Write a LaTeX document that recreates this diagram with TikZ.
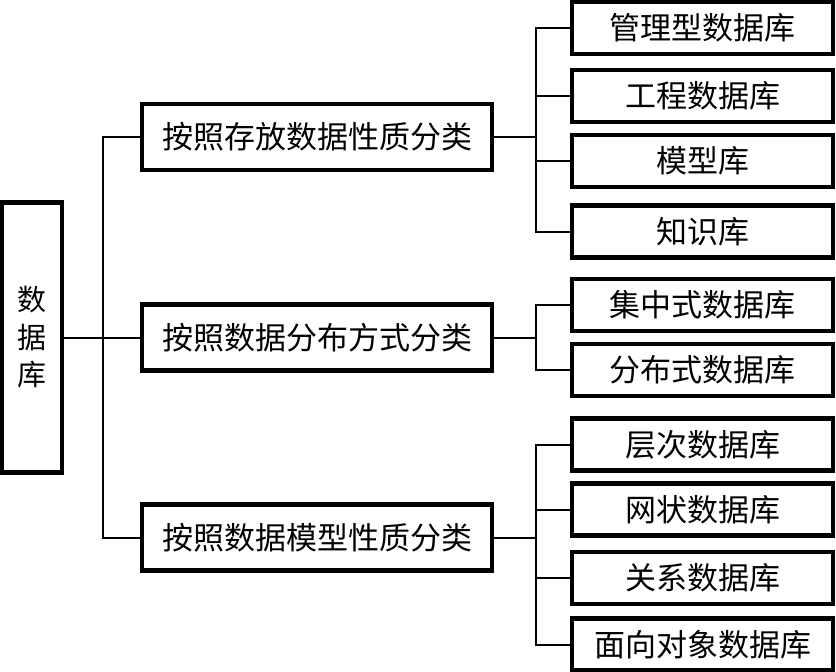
\documentclass[tikz,border=0pt]{standalone}
\usepackage{fontspec}
\newfontfamily\cjk{Noto Sans CJK SC}
\begin{document}
\begin{tikzpicture}[x=1pt,y=-1pt,
  box/.style={draw=black,line width=4.5pt,rectangle,inner sep=0pt,outer sep=0pt},
  rootbox/.style={box,minimum width=60pt,minimum height=270pt,font=\cjk\fontsize{29}{37.5}\selectfont,align=center},
  midbox/.style={box,minimum width=350pt,minimum height=66pt,font=\cjk\fontsize{31}{34}\selectfont},
  leafbox/.style={box,minimum width=261pt,minimum height=52pt,font=\cjk\fontsize{31}{34}\selectfont},
  conn/.style={draw=black,line width=2pt}]
\useasboundingbox (0,0) rectangle (836,672);
\node[rootbox] (root) at (32,337.5) {数\\据\\库};
\node[midbox] (m1) at (317,137) {按照存放数据性质分类};
\node[midbox] (m2) at (317,337.5) {按照数据分布方式分类};
\node[midbox] (m3) at (317,537.5) {按照数据模型性质分类};
\node[leafbox] (l1) at (702.5,28) {管理型数据库};
\node[leafbox] (l2) at (702.5,96) {工程数据库};
\node[leafbox] (l3) at (702.5,161) {模型库};
\node[leafbox] (l4) at (702.5,231.5) {知识库};
\node[leafbox] (l5) at (702.5,305) {集中式数据库};
\node[leafbox] (l6) at (702.5,370) {分布式数据库};
\node[leafbox] (l7) at (702.5,444.5) {层次数据库};
\node[leafbox] (l8) at (702.5,509.5) {网状数据库};
\node[leafbox] (l9) at (702.5,578) {关系数据库};
\node[leafbox] (l10) at (702.5,644.5) {面向对象数据库};
\coordinate (t) at (103,0);
\coordinate (b) at (536,0);
\draw[conn] (root.east) -- (m2.west);
\draw[conn] (m1.west) -- (m1.west -| t) -- (m3.west -| t) -- (m3.west);
\draw[conn] (m1.east) -- (m1.east -| b);
\draw[conn] (m2.east) -- (m2.east -| b);
\draw[conn] (m3.east) -- (m3.east -| b);
\draw[conn] (l1.west) -- (l1.west -| b) -- (l4.west -| b) -- (l4.west);
\draw[conn] (l2.west) -- (l2.west -| b);
\draw[conn] (l3.west) -- (l3.west -| b);
\draw[conn] (l5.west) -- (l5.west -| b) -- (l6.west -| b) -- (l6.west);
\draw[conn] (l7.west) -- (l7.west -| b) -- (l10.west -| b) -- (l10.west);
\draw[conn] (l8.west) -- (l8.west -| b);
\draw[conn] (l9.west) -- (l9.west -| b);
\end{tikzpicture}
\end{document}
